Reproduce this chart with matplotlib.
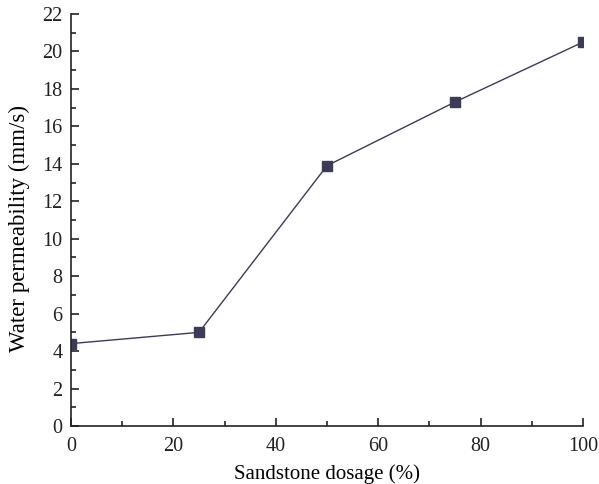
import matplotlib
matplotlib.use("Agg")
import matplotlib.pyplot as plt
from matplotlib.ticker import MultipleLocator

# datos
dosage = [0, 25, 50, 75, 100]
permeability = [4.4, 5.0, 13.9, 17.3, 20.5]

plt.rcParams['font.family'] = ['Liberation Serif', 'DejaVu Serif']

fig = plt.figure(figsize=(5.99, 4.84), dpi=100)
ax = fig.add_axes([71 / 599, 1 - 426 / 484, (583 - 71) / 599, (426 - 14) / 484])

color = '#3b3a5c'
ax.plot(dosage, permeability, color=color, lw=1.0, marker='s', ms=6.5,
        mfc=color, mec=color, clip_on=True)

ax.set_xlim(0, 100)
ax.set_ylim(0, 22)
ax.xaxis.set_major_locator(MultipleLocator(20))
ax.xaxis.set_minor_locator(MultipleLocator(10))
ax.yaxis.set_major_locator(MultipleLocator(2))
ax.yaxis.set_minor_locator(MultipleLocator(1))

for s in ['top', 'right']:
    ax.spines[s].set_visible(False)
for s in ['left', 'bottom']:
    ax.spines[s].set_linewidth(1.2)
    ax.spines[s].set_color('#222222')

ax.tick_params(which='major', direction='in', length=6, width=1.2, labelsize=14.5,
               colors='#222222')
ax.tick_params(which='minor', direction='in', length=3.5, width=1.2, colors='#222222')
ax.tick_params(axis='x', pad=8)
ax.tick_params(axis='y', pad=6)

ax.set_xlabel("Sandstone dosage (%)", fontsize=15, labelpad=6)
ax.set_ylabel("Water permeability (mm/s)", fontsize=16.5, labelpad=6)
ax.yaxis.set_label_coords(-0.08, 0.48)

plt.savefig("out.png", dpi=100)
